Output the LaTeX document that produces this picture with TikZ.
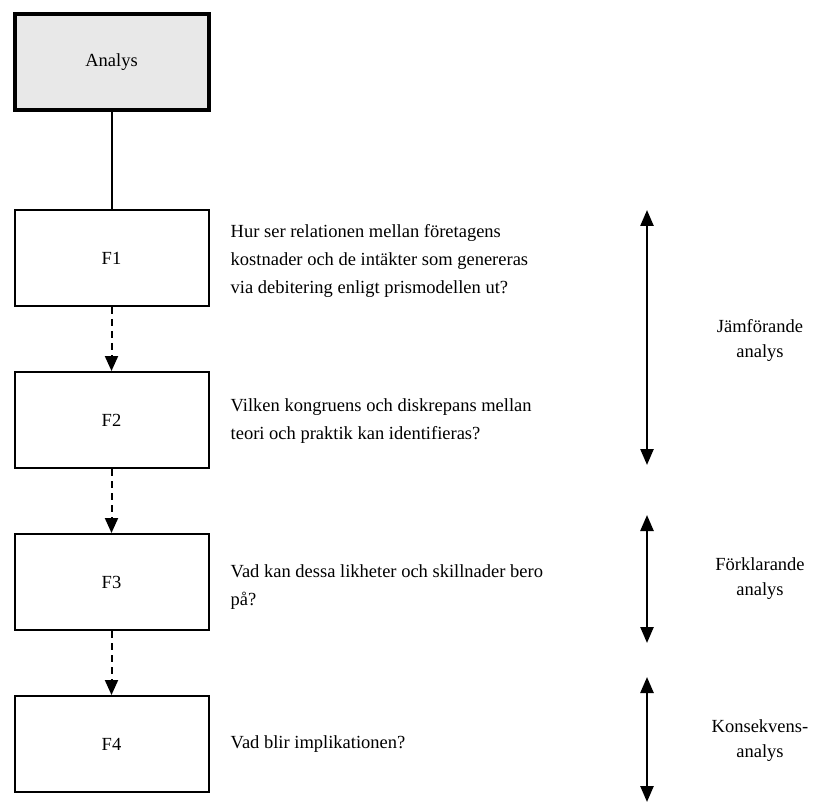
\documentclass[tikz,border=0pt]{standalone}
\usepackage{fontspec}
\setmainfont{Liberation Serif}
\usetikzlibrary{positioning, arrows.meta}

\tikzset{
  fbox/.style={draw, line width=2pt, minimum width=194pt, minimum height=96pt, inner sep=0pt},
  topbox/.style={fbox, line width=4pt, fill=gray!18},
  question/.style={anchor=west, align=left, inner sep=0pt},
  phase/.style={align=center, inner sep=0pt, font=\fontsize{18.5}{25}\selectfont},
  flow/.style={-{Triangle[length=15pt,width=13pt]}, line width=2pt, dash pattern=on 7pt off 5pt},
  span/.style={{Triangle[length=16pt,width=13pt]}-{Triangle[length=16pt,width=13pt]}, line width=2.5pt}
}

\begin{document}
\begin{tikzpicture}[x=1pt, y=-1pt, node distance=64pt, font=\fontsize{18.5}{28}\selectfont]
    \useasboundingbox (0,0) rectangle (822,802);

    % Boxes
    \node[topbox] (analys) at (111.5,62) {Analys};
    \node[fbox, below=97pt of analys] (f1) {F1};
    \node[fbox, below=of f1] (f2) {F2};
    \node[fbox, below=of f2] (f3) {F3};
    \node[fbox, below=of f3] (f4) {F4};

    % Connectors
    \draw[line width=2pt] (analys) -- (f1);
    \draw[flow] (f1) -- (f2);
    \draw[flow] (f2) -- (f3);
    \draw[flow] (f3) -- (f4);

    % Questions
    \node[question, right=21pt of f1, yshift=-3pt] (q1) {Hur ser relationen mellan företagens\\kostnader och de intäkter som genereras\\via debitering enligt prismodellen ut?};
    \node[question, right=21pt of f2, yshift=-1pt] (q2) {Vilken kongruens och diskrepans mellan\\teori och praktik kan identifieras?};
    \node[question, right=21pt of f3, yshift=-5pt] (q3) {Vad kan dessa likheter och skillnader bero\\på?};
    \node[question, right=21pt of f4] (q4) {Vad blir implikationen?};

    % Analysis spans
    \coordinate (s1a) at (647,210);
    \coordinate (s1b) at (647,465);
    \coordinate (s2a) at (647,515);
    \coordinate (s2b) at (647,643);
    \coordinate (s3a) at (647,677);
    \coordinate (s3b) at (647,802);
    \draw[span] (s1a) -- (s1b);
    \draw[span] (s2a) -- (s2b);
    \draw[span] (s3a) -- (s3b);

    \node[phase] (p1) at (760,340) {Jämförande\\analys};
    \node[phase] (p2) at (760,579) {Förklarande\\analys};
    \node[phase] (p3) at (760,741) {Konsekvens-\\analys};
\end{tikzpicture}
\end{document}
